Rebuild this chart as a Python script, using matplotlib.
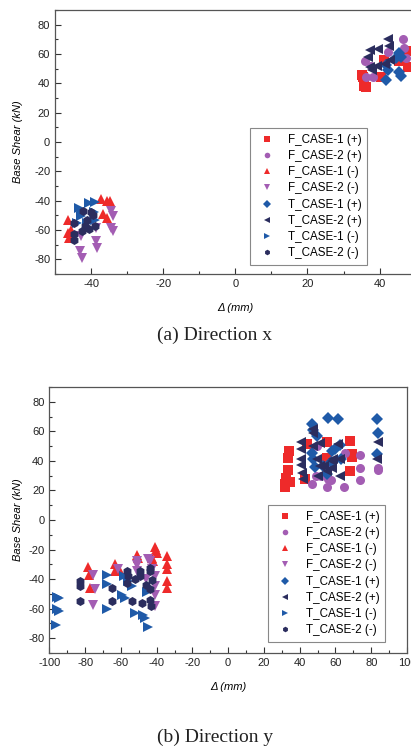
import matplotlib
matplotlib.use('Agg')
import matplotlib.pyplot as plt
from matplotlib.ticker import MultipleLocator

plt.rcParams['font.family'] = ['Liberation Sans', 'DejaVu Sans']
plt.rcParams['axes.unicode_minus'] = False

labels = ['F_CASE-1 (+)', 'F_CASE-2 (+)', 'F_CASE-1 (-)', 'F_CASE-2 (-)',
          'T_CASE-1 (+)', 'T_CASE-2 (+)', 'T_CASE-1 (-)', 'T_CASE-2 (-)']
markers = ['s', 'o', '^', 'v', 'D', '<', '>', 'h']
colors = ['#ee2a2a', '#a35db3', '#ee2a2a', '#a35db3',
          '#1f5aa8', '#2b2d5e', '#1f5aa8', '#2b2d5e']

# ---- (a) direction x ----
ax_f1p_x = [35.0, 35.5, 35.8, 36.2, 40.5, 41.2, 45.5, 47.5, 47.8]
ax_f1p_y = [46, 44, 38, 37.5, 44, 56, 55, 62, 51]
ax_f2p_x = [36.0, 36.3, 38.2, 42.3, 46.5, 46.8, 47.2, 37.5]
ax_f2p_y = [55, 44.5, 44.5, 61.5, 70, 64, 57, 52]
ax_f1n_x = [-46.5, -46.3, -46.0, -37.2, -35.5, -34.8, -36.8, -35.5, -45.5]
ax_f1n_y = [-53, -62, -65.5, -39, -40, -40.5, -49, -51.5, -60]
ax_f2n_x = [-34.4, -34.0, -34.4, -34.0, -38.6, -38.4, -43.0, -42.6, -42.8, -38.5]
ax_f2n_y = [-47, -50.5, -58.5, -61, -67.5, -72, -74.5, -79, -64, -58.5]
ax_t1p_x = [41.9, 42.3, 41.9, 45.5, 45.8, 45.4, 46.0, 44.5]
ax_t1p_y = [52.5, 49, 42, 60.5, 58, 48, 45, 57]
ax_t2p_x = [37.3, 36.8, 39.6, 42.4, 42.5, 37.3, 39.2, 43.0, 38.0, 41.5]
ax_t2p_y = [62.5, 58, 63.5, 70, 65.5, 51, 51.5, 56, 49, 53]
ax_t1n_x = [-43.3, -42.5, -40.5, -39.0, -39.2, -39.0, -42.8, -41.0, -44.0]
ax_t1n_y = [-45, -47.5, -41.5, -41, -48, -53, -50.5, -55, -55.5]
ax_t2n_x = [-44.8, -44.8, -44.6, -42.3, -40.0, -39.5, -41.8, -40.5, -42.5, -39.0, -41.0]
ax_t2n_y = [-55, -63, -67, -47, -48, -49.5, -57.5, -59.5, -60.5, -57, -53]

# ---- (b) direction y ----
by_f1p_x = [33.5, 33.8, 33.5, 32.6, 31.7, 34.5, 42.8, 43.8, 55.0, 68.0, 69.0, 68.0, 55.0, 69.2, 31.5]
by_f1p_y = [42, 46.5, 34, 28.5, 24, 25.5, 27.5, 51.5, 52.5, 53.5, 44.5, 33, 42, 42.5, 22.5]
by_f2p_x = [46.6, 49.0, 55.0, 55.9, 57.5, 65.0, 73.5, 73.6, 73.5, 83.5, 83.8, 49.4, 65.2, 56.0, 52.0]
by_f2p_y = [24, 30, 22, 27.5, 27, 22, 27, 35, 44, 34, 35, 50, 45, 35, 30]
by_f1n_x = [-78.2, -78.0, -77.5, -63.3, -63.0, -51.2, -50.5, -41.0, -40.5, -40.0,
            -42.8, -34.4, -34.4, -34.2, -34.4, -34.0, -42.0, -61.0]
by_f1n_y = [-31.5, -37, -46, -30, -34.5, -23.5, -26, -18, -20.5, -22.5,
            -26, -24.5, -30, -33.5, -41.5, -46, -28, -33]
by_f2n_x = [-75.4, -74.5, -75.4, -61.5, -51.2, -51.0, -51.2, -44.7, -43.5, -41.0,
            -41.0, -41.0, -41.0, -46.0, -42.5]
by_f2n_y = [-37, -47, -57.5, -33.5, -28, -30.5, -34.5, -26.5, -28, -38,
            -45, -50.5, -58.5, -40, -33]
by_t1p_x = [46.6, 47.3, 49.4, 55.9, 61.5, 83.3, 83.5, 83.4, 46.6, 47.5,
            57.8, 57.5, 62.4, 63.3, 53.0, 55.0, 48.5, 60.0]
by_t1p_y = [65, 61, 57, 69, 68, 68.5, 59, 44.5, 45.5, 41,
            47, 39, 51, 41, 36.5, 31, 35.5, 48]
by_t2p_x = [41.0, 41.0, 41.0, 41.0, 41.2, 41.9, 47.5, 47.5, 47.5, 49.4, 51.2, 53.5,
            57.8, 58.7, 57.8, 62.4, 62.4, 61.5, 83.0, 83.8, 50.3, 51.2, 55.0]
by_t2p_y = [52.5, 48, 41, 37, 32, 28, 61.5, 59, 50, 41, 36.5, 36.5,
            40, 41, 35, 41, 30, 51.5, 41, 52.5, 30, 52, 33]
by_t1n_x = [-95.5, -94.5, -95.5, -94.5, -96.0, -67.9, -67.5, -67.9, -59.6,
            -57.7, -52.1, -47.5, -46.5, -44.7, -54.0, -45.6, -56.0, -58.5]
by_t1n_y = [-52, -53, -60.5, -61.5, -71, -37, -43.5, -60.5, -50.5,
            -53, -63, -64, -66.5, -72.5, -45, -49, -41, -38]
by_t2n_x = [-82.9, -82.8, -82.9, -65.1, -65.1, -56.8, -56.0, -54.0, -49.3, -48.4,
            -49.3, -43.7, -43.5, -42.8, -43.7, -43.7, -56.8, -52.0, -46.0, -43.0]
by_t2n_y = [-41.5, -45, -55, -46, -55, -34.5, -38, -55, -34.5, -56,
            -38, -34.5, -32.5, -40.5, -47, -54, -42.5, -40, -44, -58]

series_a = [(ax_f1p_x, ax_f1p_y), (ax_f2p_x, ax_f2p_y), (ax_f1n_x, ax_f1n_y), (ax_f2n_x, ax_f2n_y),
            (ax_t1p_x, ax_t1p_y), (ax_t2p_x, ax_t2p_y), (ax_t1n_x, ax_t1n_y), (ax_t2n_x, ax_t2n_y)]
series_b = [(by_f1p_x, by_f1p_y), (by_f2p_x, by_f2p_y), (by_f1n_x, by_f1n_y), (by_f2n_x, by_f2n_y),
            (by_t1p_x, by_t1p_y), (by_t2p_x, by_t2p_y), (by_t1n_x, by_t1n_y), (by_t2n_x, by_t2n_y)]

fig = plt.figure(figsize=(4.11, 7.46), dpi=100)
ax1 = fig.add_axes([0.1338, 0.6327, 0.8776, 0.3539])
ax2 = fig.add_axes([0.12, 0.1247, 0.8703, 0.3566])


def draw(ax, series, xlim, xmajor, legend_anchor):
    for (xs, ys), lab, m, c in zip(series, labels, markers, colors):
        ax.plot(xs, ys, linestyle='none', marker=m, color=c, ms=6.5,
                markeredgewidth=0, label=lab)
    ax.set_xlim(*xlim)
    ax.set_ylim(-90, 90)
    ax.xaxis.set_major_locator(MultipleLocator(xmajor))
    ax.xaxis.set_minor_locator(MultipleLocator(xmajor / 2))
    ax.yaxis.set_major_locator(MultipleLocator(20))
    ax.yaxis.set_minor_locator(MultipleLocator(10))
    ax.tick_params(which='both', direction='in', labelsize=8, colors='#333333',
                   labelcolor='#222222', width=0.8)
    ax.tick_params(which='major', length=4)
    ax.tick_params(which='minor', length=2)
    for s in ax.spines.values():
        s.set_color('#555555')
        s.set_linewidth(0.9)
    ax.set_xlabel('\u0394 (mm)', fontsize=8, style='italic', labelpad=10)
    ax.set_ylabel('Base Shear (kN)', fontsize=8, style='italic')
    leg = ax.legend(loc='upper left', bbox_to_anchor=legend_anchor, fontsize=8.4,
                    markerscale=0.62, handlelength=1.9, handletextpad=0.85,
                    labelspacing=0.36, borderpad=0.5, fancybox=False,
                    framealpha=1, edgecolor='#888888', borderaxespad=0)
    leg.get_frame().set_linewidth(0.8)


draw(ax1, series_a, (-50, 50), 20, (0.54, 0.553))
draw(ax2, series_b, (-100, 100), 20, (0.611, 0.556))
ax1.yaxis.set_label_coords(-0.089, 0.5)
ax2.yaxis.set_label_coords(-0.074, 0.5)

fig.text(0.523, 1 - 335 / 746, '(a) Direction x', ha='center', va='center',
         fontsize=14, family='Liberation Serif', color='#222222')
fig.text(0.523, 1 - 737 / 746, '(b) Direction y', ha='center', va='center',
         fontsize=14, family='Liberation Serif', color='#222222')

fig.savefig('out.png', dpi=100)
